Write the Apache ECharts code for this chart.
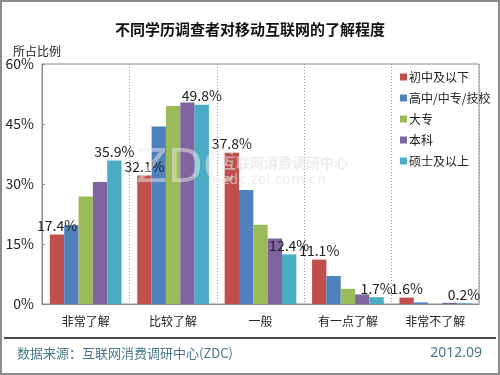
<!DOCTYPE html>
<html>
<head>
<meta charset="utf-8">
<script src="https://cdn.jsdelivr.net/npm/echarts@6/dist/echarts.min.js"></script>
<style>
html,body{margin:0;padding:0;background:#fff;}
#wrap{position:absolute;left:0;top:0;width:496px;height:371px;border:2px solid #8c8c8c;}
#c{width:496px;height:371px;}
</style>
</head>
<body>
<div id="wrap"><div id="c"></div></div>
<script>
const categories = ['非常了解', '比较了解', '一般', '有一点了解', '非常不了解'];
const seriesNames = ['初中及以下', '高中/中专/技校', '大专', '本科', '硕士及以上'];
const juniorOrBelow = [17.4, 32.1, 37.8, 11.1, 1.6];
const highSchool = [19.7, 44.4, 28.5, 7.0, 0.4];
const college = [26.9, 49.5, 19.8, 3.8, 0.0];
const bachelor = [30.5, 50.4, 16.4, 2.4, 0.3];
const masterAbove = [35.9, 49.8, 12.4, 1.7, 0.2];
const yTicks = [0, 15, 30, 45, 60];
const colors = ['#C0504D', '#4F81BD', '#9BBB59', '#8064A2', '#4BACC6'];

const FONT = "'Liberation Sans Narrow','Noto Sans CJK SC',sans-serif";
const CJK = "'Noto Sans CJK SC',sans-serif";
const allData = [juniorOrBelow, highSchool, college, bachelor, masterAbove];
const labeled = [true, false, false, false, true];

const chart = echarts.init(document.getElementById('c'), null, {renderer: 'canvas'});
const series = allData.map((d, i) => ({
  name: seriesNames[i],
  type: 'bar',
  data: d,
  barGap: '0%',
  barCategoryGap: '18%',
  itemStyle: {color: colors[i]},
  label: {
    show: labeled[i],
    position: 'top',
    distance: 2,
    formatter: p => p.value.toFixed(1) + '%',
    fontFamily: FONT,
    fontSize: 14,
    color: '#222'
  },
  z: 2
}));

chart.setOption({
  animation: false,
  title: [{
    text: '不同学历调查者对移动互联网的了解程度',
    left: 'center',
    top: 15,
    textStyle: {fontFamily: CJK, fontSize: 15, fontWeight: 'bold', color: '#111'}
  }, {
    text: '所占比例',
    left: 6,
    top: 38,
    textStyle: {fontFamily: CJK, fontSize: 12, fontWeight: 'normal', color: '#222'}
  }],
  grid: {left: 40, top: 62, right: 19, bottom: 69, show: true, borderColor: '#8c8c8c', borderWidth: 1, backgroundColor: 'transparent'},
  legend: {
    orient: 'vertical',
    left: 393,
    top: 63,
    itemWidth: 7,
    itemHeight: 7,
    itemGap: 7,
    icon: 'rect',
    data: seriesNames,
    textStyle: {fontFamily: CJK, fontSize: 12, color: '#222', lineHeight: 14, padding: [0, 0, 0, -3]}
  },
  xAxis: {
    type: 'category',
    data: categories,
    axisLine: {show: true, lineStyle: {color: '#8c8c8c'}},
    axisTick: {show: false},
    axisLabel: {fontFamily: CJK, fontSize: 12, color: '#222', margin: 11},
    splitLine: {show: true, lineStyle: {color: '#999', type: [1, 2], width: 1}}
  },
  yAxis: {
    type: 'value',
    min: yTicks[0],
    max: yTicks[yTicks.length - 1],
    interval: yTicks[1] - yTicks[0],
    axisLine: {show: true, lineStyle: {color: '#8c8c8c'}},
    axisTick: {show: true, inside: true, length: 3, lineStyle: {color: '#8c8c8c'}},
    axisLabel: {fontFamily: FONT, fontSize: 14, color: '#222', margin: 8, formatter: '{value}%'},
    splitLine: {show: false}
  },
  series: series,
  graphic: [
    {type: 'text', left: 134, top: 145, z: 100, silent: true,
     style: {text: 'ZDC', fontFamily: "'DejaVu Sans'", fontSize: 46, fontWeight: 'normal', fill: 'rgba(235,235,235,0.5)'}},
    {type: 'text', left: 220, top: 154, z: 100, silent: true,
     style: {text: '互联网消费调研中心', fontFamily: CJK, fontSize: 14, fontWeight: 'bold', fill: 'rgba(225,225,225,0.6)'}},
    {type: 'text', left: 220, top: 171, z: 100, silent: true,
     style: {text: 'zdc.zol.com.cn', fontFamily: "'DejaVu Sans'", fontSize: 14, fill: 'rgba(225,225,225,0.6)'}},
    {type: 'line', z: 100, silent: true,
     shape: {x1: 2, y1: 336, x2: 494, y2: 336}, style: {stroke: '#111', lineWidth: 1.5}},
    {type: 'text', left: 15, top: 345, z: 100, silent: true,
     style: {text: '数据来源：互联网消费调研中心(ZDC)', fontFamily: CJK, fontSize: 13, fill: '#47788a'}},
    {type: 'text', right: 16, top: 344, z: 100, silent: true,
     style: {text: '2012.09', fontFamily: "'Noto Sans','DejaVu Sans',sans-serif", fontSize: 14, fill: '#47788a'}}
  ]
});
</script>
</body>
</html>
